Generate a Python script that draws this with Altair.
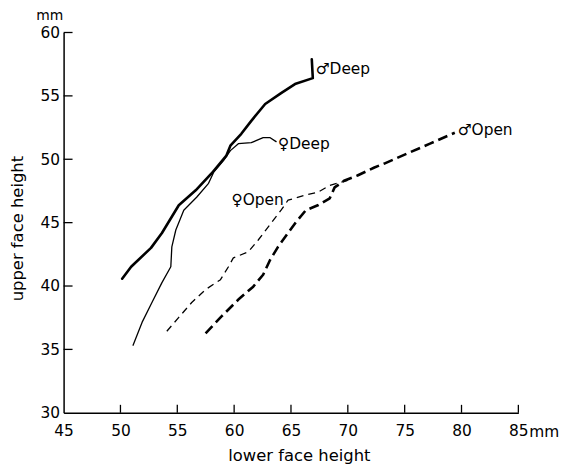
import altair as alt
import pandas as pd

# ---- data ----
male_deep_x = [50.15, 50.94, 52.69, 53.65, 55.13, 56.62, 58.01, 59.32, 59.67, 60.63, 61.51, 62.73, 64.13, 65.35, 66.92, 66.83]
male_deep_y = [40.58, 41.52, 43.01, 44.18, 46.37, 47.55, 48.88, 50.29, 51.07, 52.01, 53.03, 54.36, 55.22, 55.93, 56.40, 57.89]

female_deep_x = [51.11, 51.90, 52.77, 53.65, 54.43, 54.52, 54.87, 55.57, 56.70, 57.75, 58.19, 59.06, 59.67, 60.37, 61.51, 62.55, 63.17, 63.69]
female_deep_y = [35.33, 37.13, 38.70, 40.27, 41.52, 43.09, 44.42, 45.98, 47.00, 48.10, 48.96, 49.90, 50.68, 51.23, 51.31, 51.70, 51.70, 51.39]

female_open_x = [54.08, 55.13, 56.27, 57.49, 58.80, 59.50, 59.93, 61.24, 62.12, 63.25, 64.13, 64.74, 66.22, 67.36, 68.41, 69.37, 69.98]
female_open_y = [36.43, 37.53, 38.70, 39.72, 40.50, 41.52, 42.22, 42.69, 43.63, 44.96, 45.98, 46.77, 47.16, 47.39, 47.94, 48.18, 48.33]

male_open_x = [57.49, 58.89, 60.37, 61.68, 62.55, 63.17, 63.86, 64.74, 65.44, 66.31, 67.36, 68.41, 68.84, 69.72, 70.85, 72.34, 73.21, 75.22, 77.23, 79.41]
male_open_y = [36.27, 37.60, 38.93, 39.95, 40.89, 42.07, 43.09, 44.18, 45.04, 45.98, 46.37, 46.92, 47.78, 48.33, 48.72, 49.35, 49.66, 50.45, 51.23, 52.09]

label_text = ["\u2642Deep", "\u2640Deep", "\u2640Open", "\u2642Open"]
label_x = [67.18, 63.86, 59.76, 79.67]
label_y = [57.10, 51.23, 46.77, 52.33]

x_ticks = [45, 50, 55, 60, 65, 70, 75, 80, 85]
y_ticks = [30, 35, 40, 45, 50, 55, 60]
x_domain = [45, 85]
y_domain = [30, 60]

FONT = "DejaVu Sans"
W, H = 458, 383


def frame(xs, ys):
    return pd.DataFrame({"x": xs, "y": ys, "i": list(range(len(xs)))})


xscale = alt.Scale(domain=x_domain, nice=False, zero=False)
yscale = alt.Scale(domain=y_domain, nice=False, zero=False)

x_axis = alt.Axis(values=x_ticks, grid=False, ticks=False, domainColor="black", domainWidth=1.5,
                  labelFont=FONT, labelFontSize=15.5, labelColor="black", labelPadding=11,
                  labelFlush=False, labelOverlap=False,
                  title="lower face height", titleFont=FONT, titleFontSize=16.5, titleFontWeight="normal",
                  titleColor="black", titleX=237, titleY=43, titleBaseline="middle", titleAlign="center")
y_axis = alt.Axis(values=y_ticks, grid=False, ticks=False, domainColor="black", domainWidth=1.5,
                  labelFont=FONT, labelFontSize=15.5, labelColor="black", labelPadding=4,
                  labelFlush=False, labelOverlap=False,
                  title="upper face height", titleFont=FONT, titleFontSize=16.5, titleFontWeight="normal",
                  titleColor="black", titleX=-46, titleY=197, titleBaseline="middle", titleAlign="center",
                  titleAngle=270)


def line(df, width, dash=None):
    kw = dict(color="black", strokeWidth=width, strokeCap="round", strokeJoin="round")
    if dash:
        kw["strokeDash"] = dash
        kw["strokeCap"] = "butt"
    return alt.Chart(df).mark_line(**kw).encode(
        x=alt.X("x:Q", scale=xscale, axis=x_axis),
        y=alt.Y("y:Q", scale=yscale, axis=y_axis),
        order="i:Q",
    )


md = line(frame(male_deep_x, male_deep_y), 2.6)
fd = line(frame(female_deep_x, female_deep_y), 1.3)
fo = line(frame(female_open_x, female_open_y), 1.3, dash=[7, 5])
mo = line(frame(male_open_x, male_open_y), 2.6, dash=[10, 5])

labels = alt.Chart(pd.DataFrame({"t": label_text, "x": label_x, "y": label_y})).mark_text(
    align="left", baseline="middle", font=FONT, fontSize=15.5, color="black"
).encode(
    x=alt.X("x:Q", scale=xscale, axis=x_axis),
    y=alt.Y("y:Q", scale=yscale, axis=y_axis),
    text="t:N",
)

xt = alt.Chart(pd.DataFrame({"x": x_ticks[1:]})).mark_rule(color="black", strokeWidth=1.3).encode(
    x=alt.X("x:Q", scale=xscale, axis=x_axis), y=alt.value(H), y2=alt.value(H - 8)
)
yt = alt.Chart(pd.DataFrame({"y": y_ticks[1:]})).mark_rule(color="black", strokeWidth=1.3).encode(
    y=alt.Y("y:Q", scale=yscale, axis=y_axis), x=alt.value(0), x2=alt.value(9)
)

mm_top = alt.Chart(pd.DataFrame({"t": ["mm"]})).mark_text(
    align="center", baseline="middle", font=FONT, fontSize=14, color="black"
).encode(text="t:N", x=alt.value(-14), y=alt.value(-17))
mm_right = alt.Chart(pd.DataFrame({"t": ["mm"]})).mark_text(
    align="left", baseline="middle", font=FONT, fontSize=15.5, color="black"
).encode(text="t:N", x=alt.value(469), y=alt.value(H + 19))

chart = alt.layer(md, fd, fo, mo, labels, xt, yt, mm_top, mm_right).properties(
    width=W, height=H,
    background="white",
    autosize=alt.AutoSizeParams(type="none"),
    padding={"left": 56, "top": 23, "right": 50, "bottom": 62},
).configure_view(stroke="transparent", strokeWidth=0)

chart.save("out.html", embed_options={"renderer": "svg", "actions": False})
